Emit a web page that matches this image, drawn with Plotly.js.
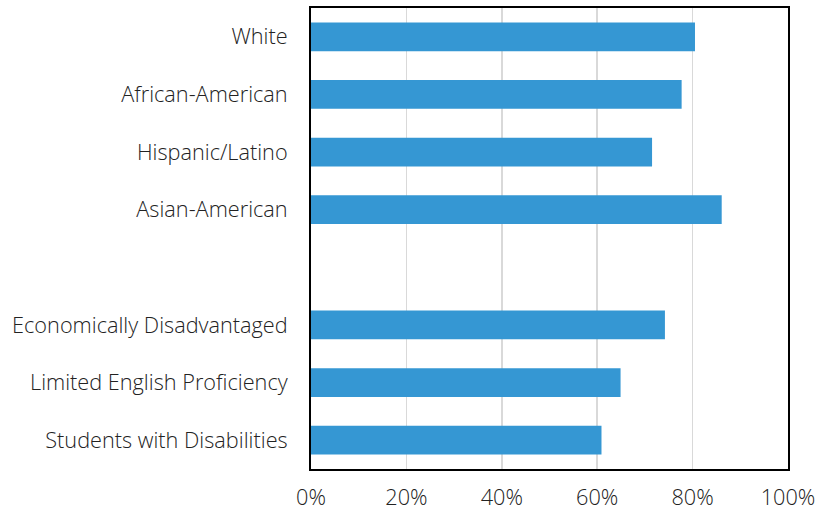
<!DOCTYPE html>
<html>
<head>
<meta charset="utf-8">
<script src="https://cdn.plot.ly/plotly-3.0.1.min.js"></script>
<style>html,body{margin:0;padding:0;background:#fff;}</style>
</head>
<body>
<div id="chart" style="width:822px;height:512px;"></div>
<script>
const categories = ["White", "African-American", "Hispanic/Latino", "Asian-American", " ", "Economically Disadvantaged", "Limited English Proficiency", "Students with Disabilities"];
const values = [0.805, 0.777, 0.715, 0.861, null, 0.742, 0.649, 0.609];
const xTickVals = [0, 0.2, 0.4, 0.6, 0.8, 1.0];
const xTickText = ["0%", "20%", "40%", "60%", "80%", "100%"];

const fontFam = "Open Sans, sans-serif";
const tf = {family: fontFam, size: 21.7, color: "#222222", weight: 300};
Plotly.newPlot("chart", [{
  type: "bar",
  orientation: "h",
  y: categories,
  x: values,
  width: 0.5,
  marker: {color: "#3597d3"},
  hoverinfo: "skip"
}], {
  width: 822, height: 512,
  margin: {l: 311, r: 34, t: 8, b: 43, pad: 0},
  paper_bgcolor: "#fff", plot_bgcolor: "#fff",
  showlegend: false,
  font: tf,
  xaxis: {
    range: [0, 1], tickvals: xTickVals, ticktext: xTickText,
    showgrid: true, gridcolor: "#d9d9d9", gridwidth: 1.5,
    zeroline: false, showline: true, mirror: true, linecolor: "#000", linewidth: 2,
    ticks: "", ticklabelstandoff: 8, tickfont: tf
  },
  yaxis: {
    type: "category", categoryorder: "array", categoryarray: categories,
    autorange: "reversed",
    showgrid: false, zeroline: false, showline: true, mirror: true, linecolor: "#000", linewidth: 2,
    ticks: "", ticklabelstandoff: 17, tickfont: tf
  }
}, {displayModeBar: false, staticPlot: true});
</script>
</body>
</html>
